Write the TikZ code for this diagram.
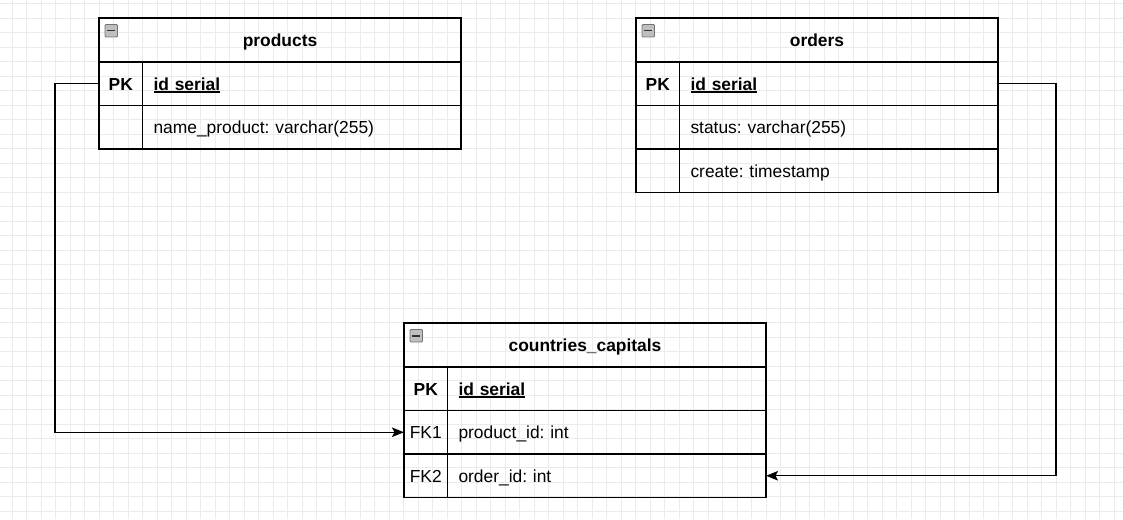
\documentclass[tikz,border=0pt]{standalone}
\usepackage{fontspec}
\setmainfont{Liberation Sans}
\usetikzlibrary{matrix,positioning,arrows.meta}

\newcommand{\erdfont}{\fontsize{17.4pt}{21pt}\selectfont\frenchspacing}
\newcommand{\keyname}[1]{\setbox0\hbox{#1}\rlap{\rule[-3pt]{\wd0}{1.6pt}}\box0}

\begin{document}
\begin{tikzpicture}[x=1pt, y=-1pt,
every node/.style={font=\erdfont, inner sep=0pt, outer sep=0pt},
gridline/.style={draw=black!8, line width=0.8pt},
head/.style={draw, line width=1.3pt, font=\erdfont\bfseries,
    minimum width=362pt, minimum height=44pt, text height=12.5pt, text depth=0pt},
cell/.style={draw, line width=1.3pt, minimum height=43.5pt,
    text height=12.5pt, text depth=0pt, inner xsep=11pt},
erd/.style={matrix of nodes, nodes in empty cells, ampersand replacement=\&,
    inner sep=0pt, column sep=-1.3pt, row sep=-1.3pt, nodes={cell},
    column 1/.style={nodes={minimum width=43.5pt, inner xsep=0pt}},
    column 2/.style={nodes={text width=296.5pt, align=left}},
    row 1/.style={nodes={font=\erdfont\bfseries}}},
collapse/.style={draw=black!55, fill=black!25, rounded corners=1pt, line width=0.8pt,
    minimum size=12.5pt,
    path picture={\draw[line width=1.5pt, black!80]
        ([xshift=2.4pt]path picture bounding box.west) --
        ([xshift=-2.4pt]path picture bounding box.east);}},
fk/.style={draw, line width=1.4pt, -{Stealth[length=12pt,width=9.5pt,inset=2.5pt]}}
]
\useasboundingbox (0,0) rectangle (1123,519);
\fill[white] (0,0) rectangle (1123,519);

% background grid
\foreach \i in {0,...,76}
    \draw[gridline] (12+14.5*\i,0) -- (12+14.5*\i,519);
\foreach \j in {0,...,35}
    \draw[gridline] (0,3.5+14.5*\j) -- (1123,3.5+14.5*\j);

% products
\node[head, anchor=north west] (prodhead) at (99,18) {products};
\node[collapse, anchor=north west] (prodicon) at ([shift={(6,6.5)}]prodhead.north west) {};
\matrix (prod) [erd, below=-0.65pt of prodhead]{
PK \& \keyname{id serial} \\
   \& name\_product: varchar(255) \\
};

% orders
\node[head, anchor=north west] (ordhead) at (636,18) {orders};
\node[collapse, anchor=north west] (ordicon) at ([shift={(6,6.5)}]ordhead.north west) {};
\matrix (ord) [erd, below=-0.65pt of ordhead]{
PK \& \keyname{id serial} \\
   \& status: varchar(255) \\
   \& create: timestamp \\
};

% countries_capitals
\node[head, anchor=north west] (cchead) at (404,323) {countries\_capitals};
\node[collapse, anchor=north west] (ccicon) at ([shift={(6,6.5)}]cchead.north west) {};
\matrix (cc) [erd, below=-0.65pt of cchead]{
PK  \& \keyname{id serial} \\
FK1 \& product\_id: int \\
FK2 \& order\_id: int \\
};

\draw[fk] (prod-1-1.west) -- ++(-44,0) |- (cc-2-1.west);
\draw[fk] (ord-1-2.east) -- ++(58,0) |- (cc-3-2.east);
\end{tikzpicture}
\end{document}
